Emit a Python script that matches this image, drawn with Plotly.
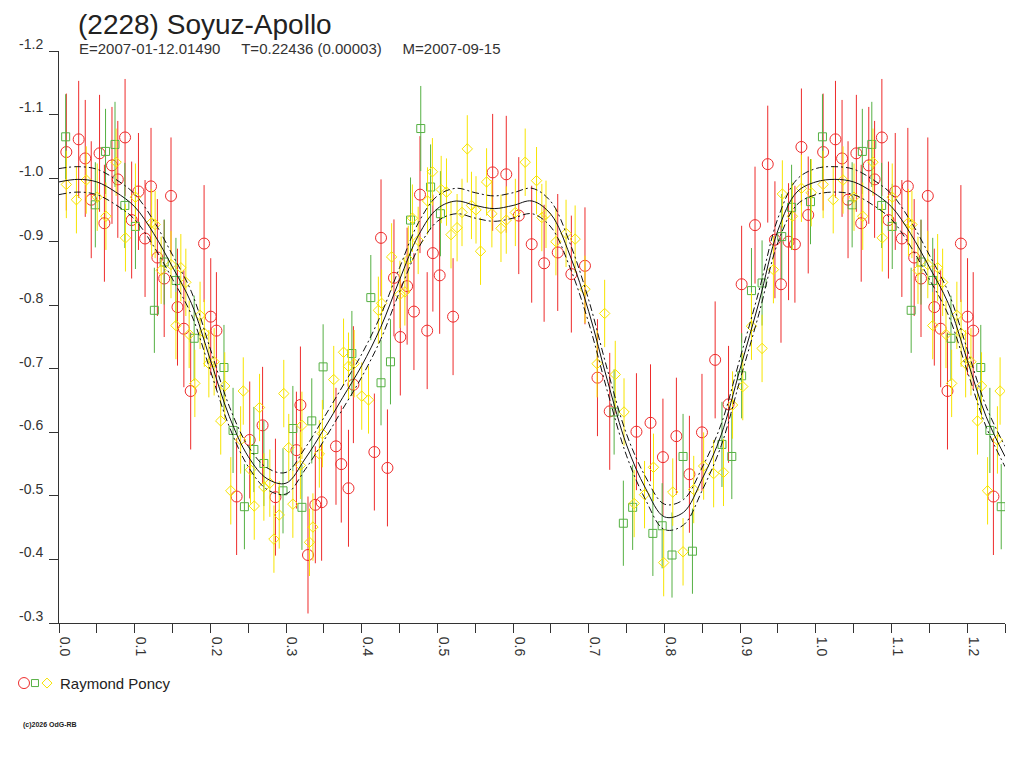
import plotly.graph_objects as go

# (2228) Soyuz-Apollo - composite lightcurve folded on the period, one observer (3 sessions)

# session 1 (red circles)
red_phase = [0.0097, 0.026, 0.0347, 0.0426, 0.0536, 0.060, 0.070, 0.0777, 0.0873, 0.096,
             0.105, 0.1137, 0.1216, 0.130, 0.139, 0.148, 0.1566, 0.165, 0.174, 0.1917,
             0.2005, 0.208, 0.2347, 0.252, 0.269, 0.286, 0.3137, 0.319, 0.329, 0.3387,
             0.347, 0.366, 0.373, 0.3825, 0.389, 0.4167, 0.4255, 0.434, 0.4426, 0.451,
             0.460, 0.469, 0.477, 0.4865, 0.494, 0.503, 0.5207, 0.573, 0.591, 0.6075,
             0.6246, 0.641, 0.659, 0.677, 0.695, 0.7115, 0.7277, 0.763, 0.7816, 0.798,
             0.8158, 0.833, 0.8496, 0.867, 0.8847, 0.902, 0.9197, 0.9365, 0.946, 0.954,
             0.964, 0.9724, 0.981, 0.990]
red_mag = [-1.041, -1.061, -1.031, -0.966, -1.039, -0.929, -1.020, -0.998, -1.064, -0.934,
           -0.979, -0.905, -0.987, -0.875, -0.842, -0.972, -0.797, -0.763, -0.665, -0.897,
           -0.782, -0.760, -0.499, -0.588, -0.611, -0.498, -0.572, -0.643, -0.407, -0.486,
           -0.490, -0.578, -0.550, -0.512, -0.675, -0.569, -0.906, -0.544, -0.843, -0.750,
           -0.830, -0.790, -0.974, -0.760, -0.882, -0.847, -0.782, -1.009, -1.006, -0.941,
           -0.896, -0.866, -0.883, -0.849, -0.862, -0.686, -0.633, -0.601, -0.615, -0.561,
           -0.594, -0.534, -0.600, -0.714, -0.644, -0.833, -0.926, -1.022, -0.903, -0.833,
           -0.900, -0.896, -1.049, -0.942]
red_err = 0.092

# session 2 (green squares)
green_phase = [0.0088, 0.048, 0.0615, 0.074, 0.087, 0.101, 0.126, 0.139, 0.1545, 0.1786,
               0.218, 0.230, 0.245, 0.2575, 0.2707, 0.296, 0.309, 0.321, 0.334, 0.349,
               0.387, 0.412, 0.4255, 0.438, 0.4645, 0.478, 0.491, 0.504, 0.7335, 0.7457,
               0.758, 0.7847, 0.797, 0.810, 0.8246, 0.837, 0.876, 0.889, 0.902, 0.915,
               0.929, 0.955, 0.968, 0.993]
green_mag = [-1.065, -0.958, -1.042, -1.053, -0.957, -0.924, -0.792, -0.868, -0.839, -0.748,
             -0.702, -0.603, -0.483, -0.573, -0.551, -0.508, -0.606, -0.482, -0.618, -0.703,
             -0.724, -0.812, -0.678, -0.711, -0.934, -1.078, -0.986, -0.944, -0.632, -0.457,
             -0.482, -0.441, -0.453, -0.407, -0.562, -0.413, -0.581, -0.562, -0.689, -0.823,
             -0.835, -0.908, -0.954, -0.963]
green_err = 0.067

# session 3 (yellow diamonds)
yellow_phase = [0.0097, 0.023, 0.036, 0.0505, 0.062, 0.0755, 0.0878, 0.101, 0.1224, 0.127,
                0.135, 0.148, 0.1545, 0.161, 0.1676, 0.172, 0.1795, 0.1864, 0.192, 0.198,
                0.205, 0.2137, 0.219, 0.227, 0.240, 0.2435, 0.253, 0.258, 0.265, 0.2707,
                0.2786, 0.284, 0.291, 0.297, 0.3036, 0.309, 0.319, 0.321, 0.331, 0.3355,
                0.344, 0.348, 0.363, 0.376, 0.3825, 0.390, 0.400, 0.409, 0.422, 0.4263,
                0.4395, 0.4505, 0.457, 0.4615, 0.467, 0.4746, 0.487, 0.4934, 0.505, 0.512,
                0.518, 0.526, 0.5325, 0.5395, 0.545, 0.551, 0.557, 0.565, 0.572, 0.584,
                0.591, 0.603, 0.616, 0.631, 0.638, 0.6435, 0.6566, 0.670, 0.682, 0.695,
                0.711, 0.721, 0.735, 0.7466, 0.760, 0.7737, 0.7855, 0.799, 0.811, 0.8246,
                0.8387, 0.8518, 0.865, 0.878, 0.890, 0.9035, 0.915, 0.929, 0.944, 0.9558,
                0.969, 0.981, 0.994]
yellow_mag = [-0.990, -0.966, -0.997, -0.970, -0.940, -1.025, -0.906, -0.970, -0.930, -0.927,
              -0.855, -0.864, -0.768, -0.859, -0.836, -0.754, -0.677, -0.784, -0.756, -0.708,
              -0.711, -0.618, -0.673, -0.508, -0.588, -0.665, -0.541, -0.484, -0.639, -0.514,
              -0.520, -0.432, -0.470, -0.661, -0.576, -0.487, -0.548, -0.611, -0.427, -0.451,
              -0.566, -0.598, -0.683, -0.726, -0.704, -0.708, -0.657, -0.651, -0.792, -0.803,
              -0.876, -0.817, -0.821, -0.872, -0.937, -0.902, -0.964, -1.010, -0.982, -0.978,
              -0.911, -0.922, -0.946, -1.046, -0.957, -0.950, -0.885, -0.994, -0.944, -0.921,
              -0.934, -0.946, -1.025, -0.996, -0.938, -0.943, -0.900, -0.913, -0.904, -0.825,
              -0.708, -0.787, -0.691, -0.632, -0.488, -0.502, -0.545, -0.395, -0.506, -0.412,
              -0.510, -0.547, -0.535, -0.537, -0.643, -0.672, -0.767, -0.732, -0.856, -0.975,
              -0.940, -0.984, -0.977]
yellow_err = 0.053

# fitted curve and its uncertainty envelope
fit_phase = [0.000, 0.025, 0.050, 0.075, 0.100, 0.125, 0.150, 0.175, 0.200, 0.225,
             0.250, 0.275, 0.300, 0.325, 0.350, 0.375, 0.400, 0.425, 0.450, 0.475,
             0.500, 0.525, 0.550, 0.575, 0.600, 0.625, 0.650, 0.675, 0.700, 0.725,
             0.750, 0.775, 0.800, 0.825, 0.850, 0.875, 0.900, 0.925, 0.950, 0.975, 1.000]
fit_mag = [-0.994, -0.998, -0.994, -0.978, -0.955, -0.913, -0.860, -0.803, -0.714, -0.625,
           -0.562, -0.527, -0.520, -0.558, -0.605, -0.655, -0.705, -0.765, -0.840, -0.910,
           -0.952, -0.964, -0.957, -0.952, -0.957, -0.964, -0.943, -0.879, -0.790, -0.680,
           -0.580, -0.512, -0.467, -0.474, -0.527, -0.596, -0.700, -0.805, -0.918, -0.978, -0.994]
fit_hi = [-1.015, -1.018, -1.014, -0.998, -0.975, -0.933, -0.879, -0.821, -0.731, -0.641,
          -0.578, -0.544, -0.537, -0.575, -0.623, -0.673, -0.723, -0.784, -0.859, -0.930,
          -0.972, -0.984, -0.977, -0.972, -0.977, -0.984, -0.963, -0.898, -0.808, -0.697,
          -0.597, -0.530, -0.487, -0.494, -0.545, -0.613, -0.717, -0.823, -0.937, -0.998, -1.015]
fit_lo = [-0.974, -0.978, -0.974, -0.958, -0.935, -0.893, -0.841, -0.785, -0.697, -0.609,
          -0.546, -0.510, -0.503, -0.541, -0.587, -0.637, -0.687, -0.746, -0.821, -0.890,
          -0.932, -0.944, -0.937, -0.932, -0.937, -0.944, -0.923, -0.860, -0.772, -0.663,
          -0.563, -0.494, -0.447, -0.454, -0.509, -0.579, -0.683, -0.787, -0.899, -0.958, -0.974]

x_ticks = [0.0, 0.1, 0.2, 0.3, 0.4, 0.5, 0.6, 0.7, 0.8, 0.9, 1.0, 1.1, 1.2]
x_labels = ['0.0', '0.1', '0.2', '0.3', '0.4', '0.5', '0.6', '0.7', '0.8', '0.9', '1.0', '1.1', '1.2']
x_minor = [0.05, 0.15, 0.25, 0.35, 0.45, 0.55, 0.65, 0.75, 0.85, 0.95, 1.05, 1.15, 1.25]
y_ticks = [-1.2, -1.1, -1.0, -0.9, -0.8, -0.7, -0.6, -0.5, -0.4, -0.3]
y_labels = ['-1.2', '-1.1', '-1.0', '-0.9', '-0.8', '-0.7', '-0.6', '-0.5', '-0.4', '-0.3']

X_MAX = 1.25
RED = '#ee2b2b'
GREEN = '#55b043'
YELLOW = '#f7e400'
FONT = 'Arial, Liberation Sans, sans-serif'


def wrap(ph, mg, start=0.0):
    # the chart repeats the first quarter of the cycle after phase 1.0
    xs = list(ph) + [p + 1 for p in ph if p > start and p + 1 <= X_MAX]
    ys = list(mg) + [m for p, m in zip(ph, mg) if p > start and p + 1 <= X_MAX]
    return xs, ys


fig = go.Figure()

for ph, mg, err, col, sym, size in [
    (red_phase, red_mag, red_err, RED, 'circle-open', 11),
    (green_phase, green_mag, green_err, GREEN, 'square-open', 8),
    (yellow_phase, yellow_mag, yellow_err, YELLOW, 'diamond-open', 8),
]:
    xs, ys = wrap(ph, mg)
    fig.add_trace(go.Scatter(
        x=xs, y=ys, mode='markers',
        marker=dict(symbol=sym, size=size, color=col, line=dict(width=1, color=col)),
        error_y=dict(type='constant', value=err, color=col, thickness=1, width=0),
        hoverinfo='skip'
    ))

for arr, dash in [(fit_hi, '7px,3px,2px,3px'), (fit_lo, '7px,3px,2px,3px'), (fit_mag, 'solid')]:
    xs, ys = wrap(fit_phase, arr, start=0.001)
    fig.add_trace(go.Scatter(
        x=xs, y=ys, mode='lines',
        line=dict(color='#111111', width=1, dash=dash, shape='spline', smoothing=1.0),
        hoverinfo='skip'
    ))

# title and parameters line
fig.add_annotation(text='(2228) Soyuz-Apollo', xref='paper', yref='paper',
                   x=0.019, y=1.0752, xanchor='left', yanchor='top', showarrow=False,
                   borderpad=0, font=dict(family=FONT, size=28, color='#222222'))
fig.add_annotation(text='E=2007-01-12.01490&nbsp;&nbsp;&nbsp;&nbsp;&nbsp;T=0.22436 (0.00003)&nbsp;&nbsp;&nbsp;&nbsp;&nbsp;M=2007-09-15',
                   xref='paper', yref='paper', x=0.019, y=1.004, xanchor='left', yanchor='middle',
                   showarrow=False, font=dict(family=FONT, size=15, color='#333333'))

# observer legend drawn below the plot
fig.add_shape(type='circle', xref='paper', yref='paper', xsizemode='pixel', ysizemode='pixel',
              xanchor=-0.037, yanchor=-0.105, x0=-5.5, x1=5.5, y0=-5.5, y1=5.5,
              line=dict(color=RED, width=1))
fig.add_shape(type='rect', xref='paper', yref='paper', xsizemode='pixel', ysizemode='pixel',
              xanchor=-0.0254, yanchor=-0.105, x0=-3.5, x1=3.5, y0=-3.5, y1=3.5,
              line=dict(color=GREEN, width=1))
fig.add_shape(type='path', xref='paper', yref='paper', xsizemode='pixel', ysizemode='pixel',
              xanchor=-0.0127, yanchor=-0.105, path='M 0 -5 L 5 0 L 0 5 L -5 0 Z',
              line=dict(color=YELLOW, width=1))
fig.add_annotation(text='Raymond Poncy', xref='paper', yref='paper', x=-0.001, y=-0.105,
                   xanchor='left', yanchor='middle', showarrow=False,
                   font=dict(family=FONT, size=15, color='#222222'))
fig.add_annotation(text='<b>(c)2026 OdG-RB</b>', xref='paper', yref='paper', x=-0.040, y=-0.178,
                   xanchor='left', yanchor='middle', showarrow=False,
                   font=dict(family=FONT, size=7, color='#222222'))

# page body adds an 8 px offset, so the figure is drawn 8 px smaller
fig.update_layout(
    width=1016, height=760,
    margin=dict(l=51, r=19, t=43, b=145),
    plot_bgcolor='white', paper_bgcolor='white',
    showlegend=False,
    xaxis=dict(
        range=[0, X_MAX], tickmode='array', tickvals=x_ticks, ticktext=x_labels,
        tickangle=90, ticks='outside', ticklen=9, tickwidth=1, tickcolor='#333333',
        ticklabelshift=6, ticklabelstandoff=1,
        minor=dict(tickmode='array', tickvals=x_minor, ticks='outside', ticklen=9,
                   tickwidth=1, tickcolor='#333333', showgrid=False),
        showline=True, linecolor='#333333', linewidth=1,
        showgrid=False, zeroline=False,
        tickfont=dict(family=FONT, size=14, color='#333333')
    ),
    yaxis=dict(
        range=[-0.3, -1.2], tickmode='array', tickvals=y_ticks, ticktext=y_labels,
        ticks='outside', ticklen=9, tickwidth=1, tickcolor='#333333',
        ticklabelshift=7, ticklabelstandoff=3,
        showline=True, linecolor='#333333', linewidth=1,
        showgrid=False, zeroline=False,
        tickfont=dict(family=FONT, size=14, color='#333333')
    )
)

fig.write_html('out.html')
